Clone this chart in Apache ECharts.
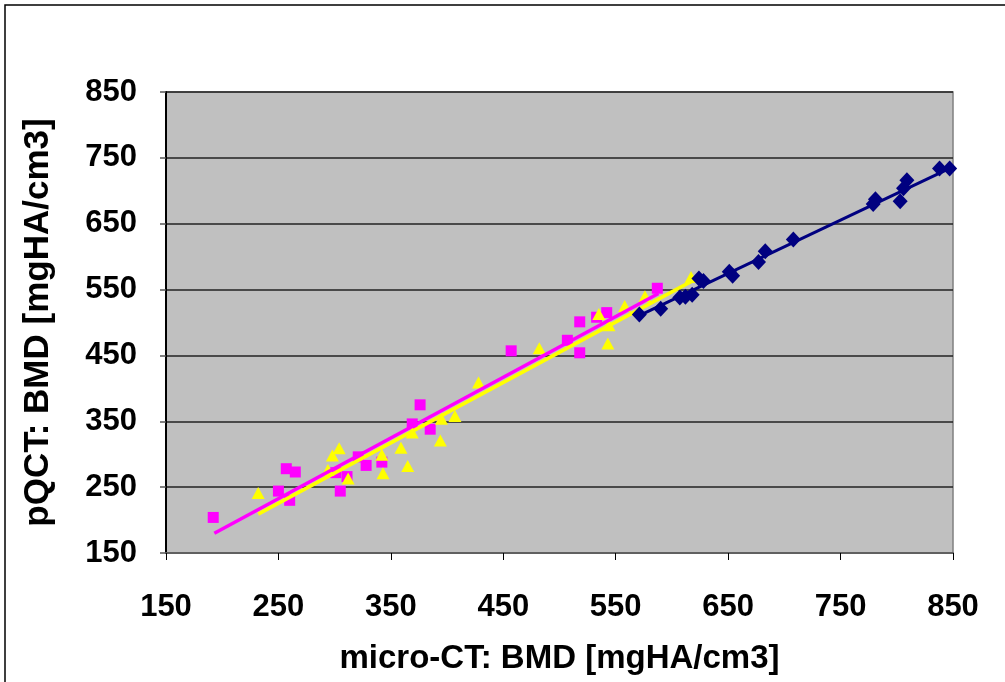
<!DOCTYPE html>
<html>
<head>
<meta charset="utf-8">
<script src="https://cdn.jsdelivr.net/npm/echarts@6/dist/echarts.min.js"></script>
<style>
  html, body { margin: 0; padding: 0; background: #fff; }
  #box { width: 1005px; height: 682px; }
</style>
</head>
<body>
<div id="box"></div>
<script>
// diamonds (navy)
var navyX = [571, 590, 607, 612, 618, 624, 628, 651, 654, 677, 683, 708, 779, 781, 803, 806, 809, 838, 847];
var navyY = [512, 521, 538, 539, 542, 567, 563, 577, 571, 592, 608, 626, 680, 687, 684, 704, 716, 734, 734];
// squares (magenta)
var pinkX = [192, 250, 257, 260, 265, 301, 305, 311, 321, 328, 342, 369, 376, 385, 457, 507, 518, 518, 533, 542, 587];
var pinkY = [204, 244, 278, 230, 273, 272, 244, 266, 296, 283, 288, 346, 375, 338, 457, 473, 501, 454, 508, 515, 552];
// triangles (yellow)
var yellowX = [232, 294, 298, 304, 312, 342, 343, 359, 365, 369, 395, 394, 407, 428, 482, 535, 544, 543, 558, 576, 617];
var yellowY = [241, 276, 298, 309, 263, 299, 271, 310, 282, 333, 354, 321, 358, 409, 461, 513, 496, 468, 525, 540, 569];

// trend line ends
var navyFitX = [569, 847], navyFitY = [509, 734];
var pinkFitX = [193, 588], pinkFitY = [180, 544];
var yellowFitX = [232, 619], yellowFitY = [209, 564];

var ticks = [150, 250, 350, 450, 550, 650, 750, 850];

function pairs(xs, ys) {
  var out = [];
  for (var i = 0; i < xs.length; i++) out.push([xs[i], ys[i]]);
  return out;
}

var myChart = echarts.init(document.getElementById('box'));
var font = 'Liberation Sans, Arial, sans-serif';

var option = {
  animation: false,
  graphic: [{
    type: 'rect',
    shape: { x: 5, y: 5, width: 1100, height: 800 },
    style: { fill: 'none', stroke: '#000', lineWidth: 1.5 },
    silent: true
  }],
  grid: {
    left: 166, right: 52, top: 92, bottom: 129,
    show: true,
    backgroundColor: '#c0c0c0',
    borderColor: '#808080',
    borderWidth: 1.5
  },
  xAxis: {
    type: 'value',
    min: 150, max: 850, interval: 100,
    name: 'micro-CT: BMD [mgHA/cm3]',
    nameLocation: 'middle',
    nameGap: 89,
    nameTextStyle: { fontFamily: font, fontWeight: 'bold', fontSize: 33, color: '#000' },
    axisLine: { show: true, lineStyle: { color: '#606060', width: 2 } },
    axisTick: { show: true, length: 7, lineStyle: { color: '#000', width: 1 } },
    axisLabel: {
      margin: 39,
      fontFamily: font, fontWeight: 'bold', fontSize: 31, color: '#000',
      formatter: function (v) { return ticks.indexOf(v) >= 0 ? String(v) : ''; }
    },
    splitLine: { show: false }
  },
  yAxis: {
    type: 'value',
    min: 150, max: 850, interval: 100,
    name: 'pQCT: BMD [mgHA/cm3]',
    nameLocation: 'middle',
    nameGap: 110,
    nameTextStyle: { fontFamily: font, fontWeight: 'bold', fontSize: 35, color: '#000' },
    axisLine: { show: true, lineStyle: { color: '#000', width: 2 } },
    axisTick: { show: true, length: 6, lineStyle: { color: '#555', width: 1.5 } },
    axisLabel: {
      margin: 29,
      fontFamily: font, fontWeight: 'bold', fontSize: 31, color: '#000'
    },
    splitLine: { show: true, lineStyle: { color: '#222', width: 1.5 } }
  },
  series: [
    {
      type: 'line', data: pairs(navyFitX, navyFitY),
      showSymbol: false, lineStyle: { color: '#000080', width: 3 }, z: 3
    },
    {
      type: 'line', data: pairs(pinkFitX, pinkFitY),
      showSymbol: false, lineStyle: { color: '#ff00ff', width: 3.5 }, z: 3
    },
    {
      type: 'line', data: pairs(yellowFitX, yellowFitY),
      showSymbol: false, lineStyle: { color: '#ffff00', width: 3.5 }, z: 3
    },
    {
      type: 'scatter', data: pairs(navyX, navyY),
      symbol: 'diamond', symbolSize: [15, 16],
      itemStyle: { color: '#000080', opacity: 1 }, z: 4
    },
    {
      type: 'scatter', data: pairs(pinkX, pinkY),
      symbol: 'rect', symbolSize: 11,
      itemStyle: { color: '#ff00ff', opacity: 1 }, z: 2
    },
    {
      type: 'scatter', data: pairs(yellowX, yellowY),
      symbol: 'triangle', symbolSize: [13, 12],
      itemStyle: { color: '#ffff00', opacity: 1 }, z: 2
    }
  ]
};

myChart.setOption(option);
</script>
</body>
</html>
